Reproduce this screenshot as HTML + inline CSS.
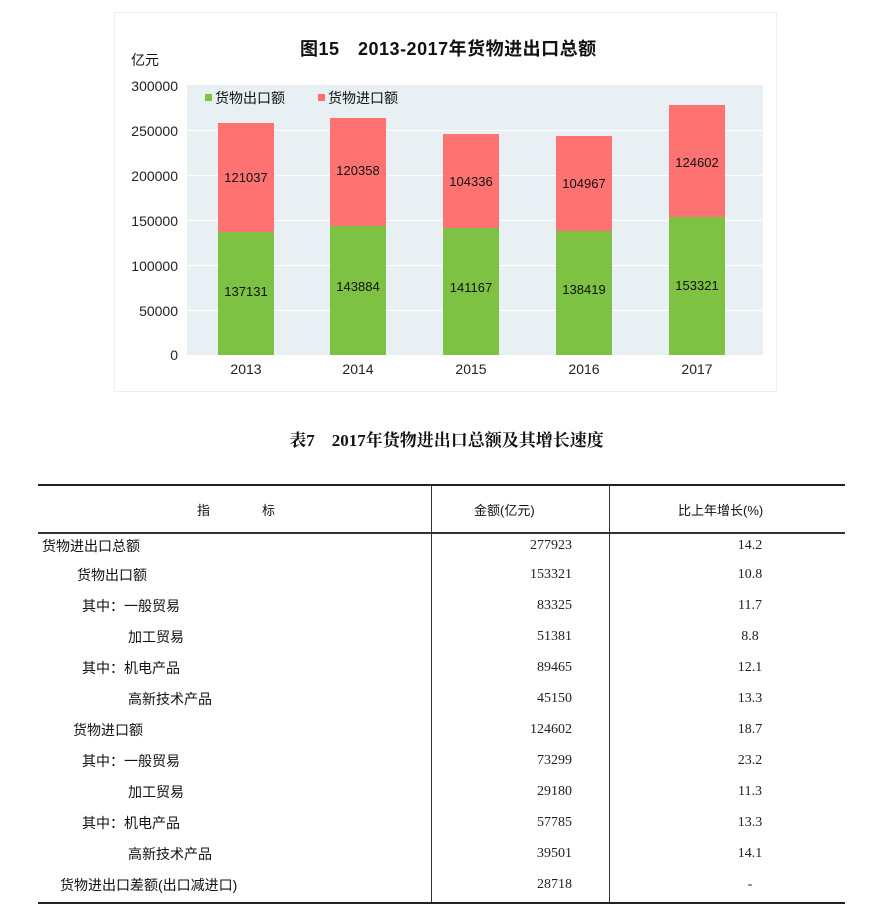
<!DOCTYPE html>
<html><head><meta charset="utf-8"><style>
body{margin:0;width:893px;height:916px;background:#fff;position:relative;overflow:hidden;font-family:"Liberation Sans","Noto Sans CJK SC",sans-serif;}
.a{position:absolute;white-space:nowrap;}
.yl{position:absolute;right:715px;font-size:14px;color:#222;transform:translateY(-50%);}
.bar{position:absolute;width:56px;}
.v{position:absolute;width:56px;text-align:center;font-size:13px;color:#111;}
.yr{position:absolute;width:60px;text-align:center;font-size:14px;color:#222;top:361px;}
.r{position:absolute;font-size:14px;color:#111;font-family:"Liberation Sans","Noto Sans CJK SC",sans-serif;}
.n{position:absolute;right:321px;font-size:14px;color:#222;font-family:"Liberation Serif",serif;}
.g{position:absolute;left:700px;width:100px;text-align:center;font-size:14px;color:#222;font-family:"Liberation Serif",serif;}
</style></head><body>
<div class="a" style="left:114px;top:12px;width:661px;height:378px;border:1px solid #eee;"></div>
<div class="a" style="left:187px;top:85px;width:576px;height:270px;background:#e8f0f3;"></div>
<div class="a" style="left:187px;top:130px;width:576px;height:1px;background:#fff;"></div>
<div class="a" style="left:187px;top:175px;width:576px;height:1px;background:#fff;"></div>
<div class="a" style="left:187px;top:220px;width:576px;height:1px;background:#fff;"></div>
<div class="a" style="left:187px;top:265px;width:576px;height:1px;background:#fff;"></div>
<div class="a" style="left:187px;top:310px;width:576px;height:1px;background:#fff;"></div>
<div class="a" style="left:300px;top:35px;font-size:18px;font-weight:bold;color:#111;letter-spacing:0.5px;">图15　2013-2017年货物进出口总额</div>
<div class="a" style="left:131px;top:50px;font-size:14px;color:#111;">亿元</div>
<div class="yl" style="top:86px">300000</div>
<div class="yl" style="top:131px">250000</div>
<div class="yl" style="top:176px">200000</div>
<div class="yl" style="top:221px">150000</div>
<div class="yl" style="top:266px">100000</div>
<div class="yl" style="top:311px">50000</div>
<div class="yl" style="top:355px">0</div>
<div class="a" style="left:205px;top:94px;width:7px;height:7px;background:#7dc242;"></div>
<div class="a" style="left:215px;top:88px;font-size:14px;color:#111;">货物出口额</div>
<div class="a" style="left:318px;top:94px;width:7px;height:7px;background:#ff6e6e;"></div>
<div class="a" style="left:328px;top:88px;font-size:14px;color:#111;">货物进口额</div>

<div class="bar" style="left:218px;top:232px;height:123px;background:#7dc242"></div>
<div class="bar" style="left:218px;top:123px;height:109px;background:#ff7272"></div>
<div class="v" style="left:218px;top:284px">137131</div><div class="v" style="left:218px;top:170px">121037</div>
<div class="bar" style="left:330px;top:226px;height:129px;background:#7dc242"></div>
<div class="bar" style="left:330px;top:118px;height:108px;background:#ff7272"></div>
<div class="v" style="left:330px;top:279px">143884</div><div class="v" style="left:330px;top:163px">120358</div>
<div class="bar" style="left:443px;top:228px;height:127px;background:#7dc242"></div>
<div class="bar" style="left:443px;top:134px;height:94px;background:#ff7272"></div>
<div class="v" style="left:443px;top:280px">141167</div><div class="v" style="left:443px;top:174px">104336</div>
<div class="bar" style="left:556px;top:231px;height:124px;background:#7dc242"></div>
<div class="bar" style="left:556px;top:136px;height:95px;background:#ff7272"></div>
<div class="v" style="left:556px;top:282px">138419</div><div class="v" style="left:556px;top:176px">104967</div>
<div class="bar" style="left:669px;top:217px;height:138px;background:#7dc242"></div>
<div class="bar" style="left:669px;top:105px;height:112px;background:#ff7272"></div>
<div class="v" style="left:669px;top:278px">153321</div><div class="v" style="left:669px;top:155px">124602</div>
<div class="yr" style="left:216px">2013</div><div class="yr" style="left:328px">2014</div><div class="yr" style="left:441px">2015</div><div class="yr" style="left:554px">2016</div><div class="yr" style="left:667px">2017</div>

<div class="a" style="left:0;width:893px;text-align:center;top:426px;font-size:17px;font-weight:bold;font-family:'Liberation Serif','Noto Serif CJK SC',serif;color:#111;">表7　2017年货物进出口总额及其增长速度</div>
<div class="a" style="left:38px;top:484px;width:807px;height:2px;background:#222;"></div>
<div class="a" style="left:38px;top:532px;width:807px;height:2px;background:#333;"></div>
<div class="a" style="left:38px;top:902px;width:807px;height:2px;background:#222;"></div>
<div class="a" style="left:431px;top:486px;width:1px;height:416px;background:#333;"></div>
<div class="a" style="left:609px;top:486px;width:1px;height:416px;background:#333;"></div>
<div class="r" style="left:197px;top:500px;font-size:13px">指　　　　标</div>
<div class="r" style="left:474px;top:500px;font-size:13px">金额(亿元)</div>
<div class="r" style="left:678px;top:500px;font-size:13px">比上年增长(%)</div>
<div class="r" style="left:42px;top:536px">货物进出口总额</div><div class="n" style="top:538px">277923</div><div class="g" style="top:538px">14.2</div>
<div class="r" style="left:77px;top:565px">货物出口额</div><div class="n" style="top:567px">153321</div><div class="g" style="top:567px">10.8</div>
<div class="r" style="left:82px;top:596px">其中：一般贸易</div><div class="n" style="top:598px">83325</div><div class="g" style="top:598px">11.7</div>
<div class="r" style="left:128px;top:627px">加工贸易</div><div class="n" style="top:629px">51381</div><div class="g" style="top:629px">8.8</div>
<div class="r" style="left:82px;top:658px">其中：机电产品</div><div class="n" style="top:660px">89465</div><div class="g" style="top:660px">12.1</div>
<div class="r" style="left:128px;top:689px">高新技术产品</div><div class="n" style="top:691px">45150</div><div class="g" style="top:691px">13.3</div>
<div class="r" style="left:73px;top:720px">货物进口额</div><div class="n" style="top:722px">124602</div><div class="g" style="top:722px">18.7</div>
<div class="r" style="left:82px;top:751px">其中：一般贸易</div><div class="n" style="top:753px">73299</div><div class="g" style="top:753px">23.2</div>
<div class="r" style="left:128px;top:782px">加工贸易</div><div class="n" style="top:784px">29180</div><div class="g" style="top:784px">11.3</div>
<div class="r" style="left:82px;top:813px">其中：机电产品</div><div class="n" style="top:815px">57785</div><div class="g" style="top:815px">13.3</div>
<div class="r" style="left:128px;top:844px">高新技术产品</div><div class="n" style="top:846px">39501</div><div class="g" style="top:846px">14.1</div>
<div class="r" style="left:60px;top:875px">货物进出口差额(出口减进口)</div><div class="n" style="top:877px">28718</div><div class="g" style="top:877px">-</div>
</body></html>
